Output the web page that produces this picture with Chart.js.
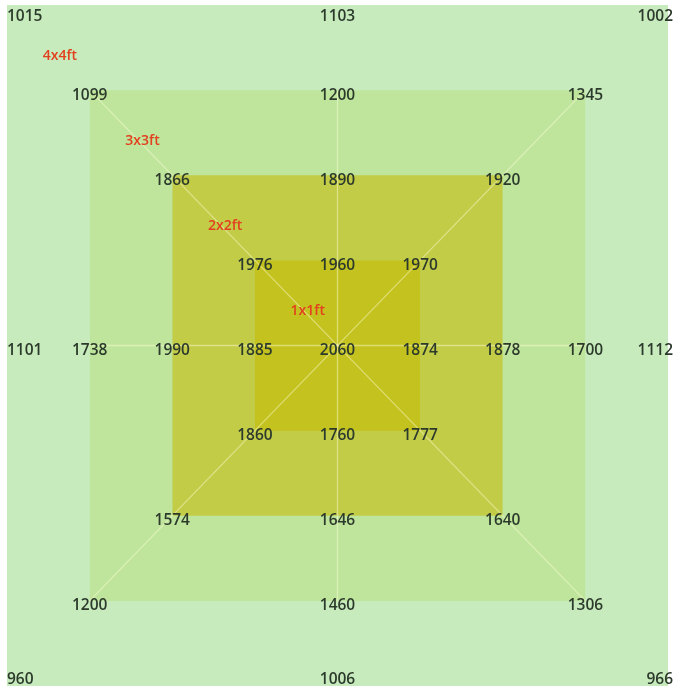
<!DOCTYPE html>
<html>
<head>
<meta charset="utf-8">
<script src="https://cdn.jsdelivr.net/npm/chart.js@4.4.1/dist/chart.umd.min.js"></script>
<style>
  html, body { margin: 0; padding: 0; background: #fff; }
  #wrap { width: 678px; height: 693px; }
</style>
</head>
<body>
<div id="wrap"><canvas id="squareChart" width="678" height="693"></canvas></div>
<script>
// square sizes (ft) and names, inner to outer
const squareNames = ["1x1ft", "2x2ft", "3x3ft", "4x4ft"];
const squareSides = [1, 2, 3, 4];
const squareColors = ["#c4c21e", "#c3cc47", "#bfe59c", "#c8ebbd"];

// readings around each square: TL, T, TR, R, BR, B, BL, L
const centerValue = 2060;
const ring1 = [1976, 1960, 1970, 1874, 1777, 1760, 1860, 1885];
const ring2 = [1866, 1890, 1920, 1878, 1640, 1646, 1574, 1990];
const ring3 = [1099, 1200, 1345, 1700, 1306, 1460, 1200, 1738];
const ring4 = [1015, 1103, 1002, 1112, 966, 1006, 960, 1101];
const rings = [ring1, ring2, ring3, ring4];

const dirs = [[-1, 1], [0, 1], [1, 1], [1, 0], [1, -1], [0, -1], [-1, -1], [-1, 0]];

const datasets = [];

// filled squares, outer drawn first
squareSides.forEach((s, i) => {
    const h = s / 2;
    datasets.push({
        type: "line",
        data: [{ x: -h, y: h }, { x: h, y: h }],
        fill: { value: -h },
        backgroundColor: squareColors[i],
        borderWidth: 0,
        pointRadius: 0,
        order: 20 + i,
    });
});

// pale guide lines across the 3x3 square
const g = squareSides[2] / 2;
[[-g, g, g, -g], [-g, -g, g, g], [-g, 0, g, 0], [0, g, 0, -g]].forEach(l => {
    datasets.push({
        type: "line",
        data: [{ x: l[0], y: l[1] }, { x: l[2], y: l[3] }],
        borderColor: "rgba(255,255,215,0.45)",
        borderWidth: 1.3,
        pointRadius: 0,
        fill: false,
        order: 5,
    });
});

// value points
const valuePoints = [{ x: 0, y: 0, v: centerValue }];
rings.forEach((r, i) => {
    const h = squareSides[i] / 2;
    r.forEach((v, j) => valuePoints.push({ x: dirs[j][0] * h, y: dirs[j][1] * h, v: v }));
});
datasets.push({
    type: "scatter",
    label: "values",
    data: valuePoints,
    pointRadius: 0,
    order: 1,
});

// size names along the upper-left diagonal
const namePoints = squareSides.map((s, i) => ({ x: -(s / 2 - 0.32), y: s / 2 - 0.3, v: squareNames[i] }));
datasets.push({
    type: "scatter",
    label: "names",
    data: namePoints,
    pointRadius: 0,
    order: 0,
});

const textPlugin = {
    id: "textPlugin",
    afterDatasetsDraw(chart) {
        const ctx = chart.ctx;
        const area = chart.chartArea;
        ctx.save();
        ctx.textAlign = "center";
        ctx.textBaseline = "middle";
        chart.data.datasets.forEach((ds, di) => {
            if (ds.label !== "values" && ds.label !== "names") return;
            const meta = chart.getDatasetMeta(di);
            meta.data.forEach((el, k) => {
                const txt = String(ds.data[k].v);
                let x = el.x;
                let y = el.y;
                if (ds.label === "values") {
                    ctx.font = "600 15.5px 'Open Sans', 'Noto Sans', sans-serif";
                    ctx.fillStyle = "#2c3a2c";
                    const w = ctx.measureText(txt).width;
                    y += 5;
                    x = Math.min(Math.max(x, area.left + w / 2), area.right + 5 - w / 2);
                    y = Math.min(Math.max(y, area.top + 12), area.bottom - 6);
                } else {
                    ctx.font = "600 14px 'Open Sans', 'Noto Sans', sans-serif";
                    ctx.fillStyle = "#e2401f";
                }
                ctx.fillText(txt, x, y);
            });
        });
        ctx.restore();
    }
};

new Chart(document.getElementById("squareChart"), {
    type: "scatter",
    data: { datasets: datasets },
    options: {
        responsive: false,
        animation: false,
        devicePixelRatio: 1,
        layout: { padding: { left: 7, top: 5, right: 10, bottom: 7 } },
        plugins: {
            legend: { display: false },
            tooltip: { enabled: false },
            filler: { propagate: false },
        },
        scales: {
            x: { type: "linear", min: -2, max: 2, display: false },
            y: { type: "linear", min: -2, max: 2, display: false },
        },
    },
    plugins: [textPlugin],
});
</script>
</body>
</html>
